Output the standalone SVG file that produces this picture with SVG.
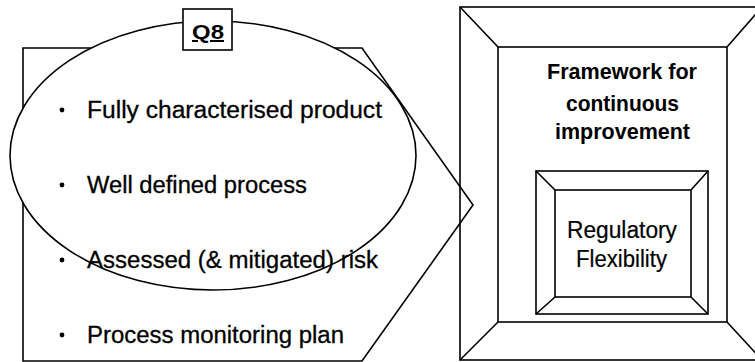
<svg xmlns="http://www.w3.org/2000/svg" width="755" height="362" viewBox="0 0 755 362">
  <style>
    .ln { fill: none; stroke: #000; stroke-width: 1.6; stroke-linejoin: miter; }
    .wh { fill: #fff; stroke: #000; stroke-width: 1.6; }
    .item { font-family: "Liberation Sans", Arial, sans-serif; font-size: 23.5px; fill: #000; stroke: #000; stroke-width: 0.3; }
    .bold { font-family: "Liberation Sans", Arial, sans-serif; font-size: 22px; font-weight: bold; fill: #000; text-anchor: middle; }
    .reg { font-family: "Liberation Sans", Arial, sans-serif; font-size: 23px; fill: #000; text-anchor: middle; stroke: #000; stroke-width: 0.2; }
    .dot { fill: #000; }
  </style>
  <rect width="755" height="362" fill="#fff"/>

  <!-- arrow-shaped panel pointing to the framework -->
  <g id="connectors">
    <polygon class="ln" points="23,48 362,48 473,205 362,361 23,361"/>
  </g>

  <!-- Q8 ellipse with its label box -->
  <g id="q8">
    <ellipse class="wh" cx="213" cy="155.5" rx="203" ry="134.5"/>
    <rect class="wh" x="183" y="9" width="49" height="41"/>
    <text x="208" y="39" font-family="Liberation Sans, Arial, sans-serif" font-size="20" font-weight="bold" text-anchor="middle" text-decoration="underline" textLength="32" lengthAdjust="spacingAndGlyphs">Q8</text>
  </g>

  <!-- bulleted requirements -->
  <g id="requirements">
    <circle class="dot" cx="62" cy="110" r="2.4"/>
    <text class="item" x="87" y="118" textLength="295" lengthAdjust="spacingAndGlyphs">Fully characterised product</text>
    <circle class="dot" cx="62" cy="185" r="2.4"/>
    <text class="item" x="87" y="193" textLength="220" lengthAdjust="spacingAndGlyphs">Well defined process</text>
    <circle class="dot" cx="62" cy="260" r="2.4"/>
    <text class="item" x="87" y="268" textLength="291" lengthAdjust="spacingAndGlyphs">Assessed (&amp; mitigated) risk</text>
    <circle class="dot" cx="62" cy="335" r="2.4"/>
    <text class="item" x="87" y="343" textLength="257" lengthAdjust="spacingAndGlyphs">Process monitoring plan</text>
  </g>

  <!-- outer bevelled frame -->
  <g id="framework">
    <rect class="ln" x="460" y="7" width="302" height="353"/>
    <rect class="ln" x="498" y="47" width="229" height="275"/>
    <path class="ln" d="M460,7 L498,47 M762,7 L727,47 M460,360 L498,322 M762,360 L727,322"/>
    <text class="bold" x="622" y="79" textLength="150" lengthAdjust="spacingAndGlyphs">Framework for</text>
    <text class="bold" x="622.5" y="111" textLength="113" lengthAdjust="spacingAndGlyphs">continuous</text>
    <text class="bold" x="622.5" y="139" textLength="135" lengthAdjust="spacingAndGlyphs">improvement</text>
  </g>

  <!-- inner bevelled frame -->
  <g id="flexibility">
    <rect class="ln" x="536" y="171" width="172" height="143"/>
    <rect class="ln" x="555" y="190" width="136" height="107"/>
    <path class="ln" d="M536,171 L555,190 M708,171 L691,190 M536,314 L555,297 M708,314 L691,297"/>
    <text class="reg" x="622" y="238" textLength="110" lengthAdjust="spacingAndGlyphs">Regulatory</text>
    <text class="reg" x="621.5" y="267" textLength="91" lengthAdjust="spacingAndGlyphs">Flexibility</text>
  </g>
</svg>
